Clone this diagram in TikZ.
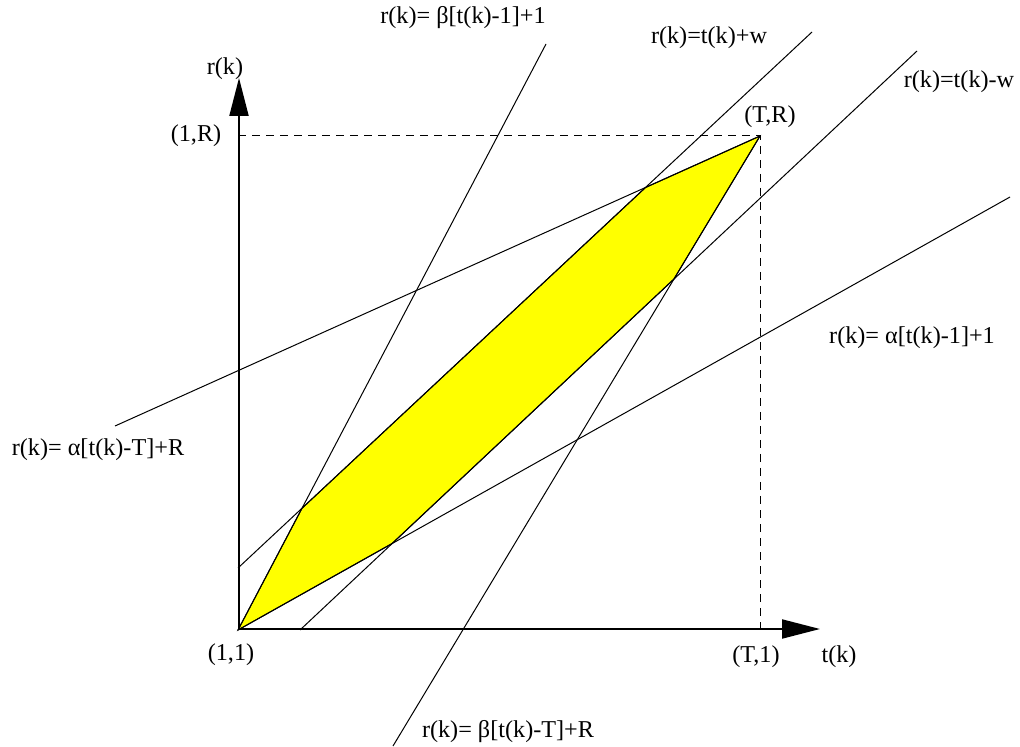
\documentclass[tikz,border=0pt]{standalone}
\usepackage{fontspec}
\setmainfont{Liberation Serif}
\usepackage{xcolor}
\usepackage{tikz}
\usetikzlibrary{arrows.meta, positioning, calc}
\definecolor{region}{HTML}{FFFF00}

\begin{document}
\begin{tikzpicture}[
  x=0.5pt, y=-0.5pt,
  axis/.style={line width=1pt, -{Triangle[length=19pt, width=9.5pt]}},
  bound/.style={line width=0.5pt, draw=black},
  guide/.style={line width=0.5pt, dash pattern=on 4pt off 3pt},
  lbl/.style={font=\fontsize{12.1}{14}\selectfont, inner sep=0pt}
]
  \useasboundingbox (0,0) rectangle (1020,747);
  % corner points
  \coordinate (o) at (238,630);
  \coordinate (tr) at (760,136);
  \coordinate (oR) at (238,136);
  \coordinate (T1) at (760,630);

  % line ends
  \coordinate (b1top) at (546,44);
  \coordinate (wpl) at (238,568);
  \coordinate (wplTop) at (812,32);
  \coordinate (wmi) at (300,630);
  \coordinate (wmiTop) at (917,51);
  \coordinate (a1end) at (1010,197);
  \coordinate (aTend) at (115,426);
  \coordinate (bTend) at (393,746);

  % crossings
  \coordinate (a) at (intersection of o--b1top and wpl--wplTop);
  \coordinate (b) at (intersection of wpl--wplTop and tr--aTend);
  \coordinate (c) at (intersection of tr--bTend and wmi--wmiTop);
  \coordinate (d) at (intersection of wmi--wmiTop and o--a1end);

  % feasible region
  \filldraw[fill=region, bound] (o) -- (a) -- (b) -- (tr) -- (c) -- (d) -- cycle;

  \draw[bound] (o) -- (b1top);
  \draw[bound] (wpl) -- (wplTop);
  \draw[bound] (wmi) -- (wmiTop);
  \draw[bound] (o) -- (a1end);
  \draw[bound] (tr) -- (aTend);
  \draw[bound] (tr) -- (bTend);

  % limits
  \draw[guide] (oR) -- (tr) -- (T1);

  % axes
  \coordinate (xend) at (820,629);
  \coordinate (yend) at (239,78);
  \draw[axis] (239,629) -- (xend);
  \draw[axis] (239,629) -- (yend);

  % labels
  \node[lbl] (ylab) at (225,69) {r(k)};
  \node[lbl] (xlab) at (839,657) {t(k)};
  \node[lbl] (p1R) at (196,136) {(1,R)};
  \node[lbl] (pTR) at (770,117) {(T,R)};
  \node[lbl] (p11) at (231,655) {(1,1)};
  \node[lbl] (pT1) at (756,657) {(T,1)};
  \node[lbl] (eqB1) at (463,18) {r(k)= β[t(k)-1]+1};
  \node[lbl] (eqWp) at (709,38) {r(k)=t(k)+w};
  \node[lbl] (eqWm) at (959,82) {r(k)=t(k)-w};
  \node[lbl] (eqA1) at (912,338) {r(k)= α[t(k)-1]+1};
  \node[lbl] (eqAT) at (98,450) {r(k)= α[t(k)-T]+R};
  \node[lbl] (eqBT) at (508,732) {r(k)= β[t(k)-T]+R};
\end{tikzpicture}
\end{document}
